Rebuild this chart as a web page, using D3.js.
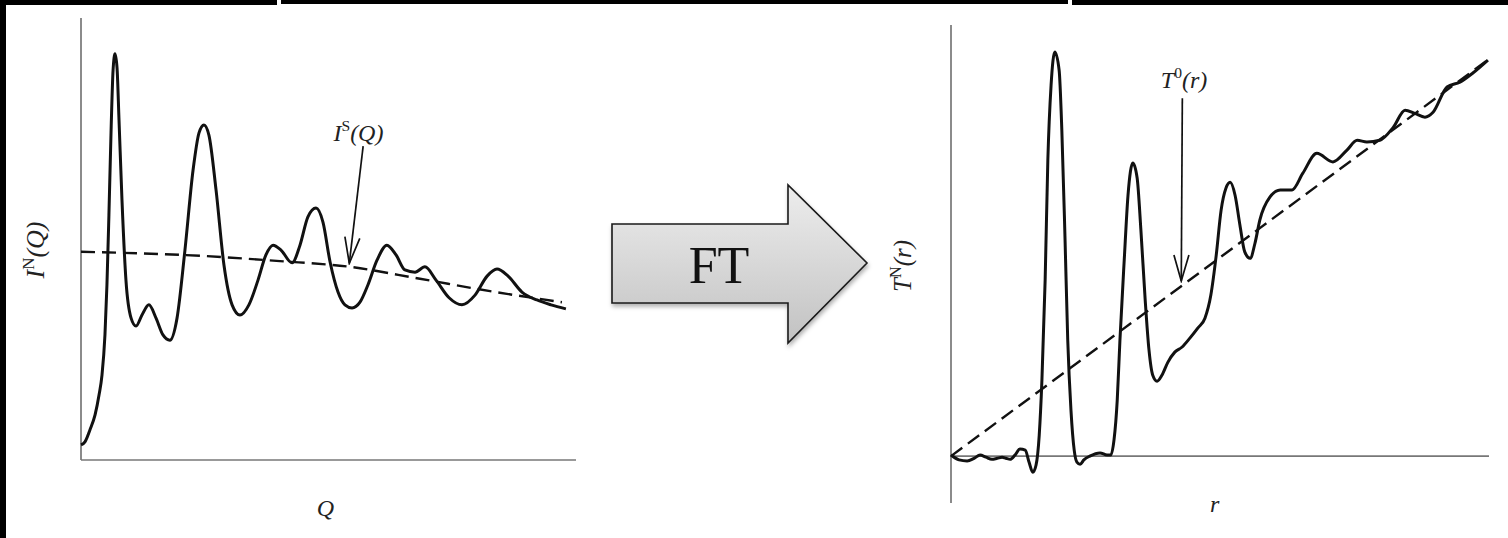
<!DOCTYPE html>
<html>
<head>
<meta charset="utf-8">
<script src="https://cdn.jsdelivr.net/npm/d3@7"></script>
<style>
  html, body { margin: 0; padding: 0; background: #fff; }
  svg { display: block; }
  .lbl { font-family: "Liberation Serif", "Times New Roman", Tinos, Times, "DejaVu Serif", serif; font-style: italic; fill: #222; }
  .sup { font-style: normal; }
</style>
</head>
<body>
<svg id="chart" width="1508" height="538"></svg>
<script>
// ---- data: structure factor I^N(Q) and self term I^S(Q) (left panel)
const qValues = [0, 0.20, 0.45, 0.71, 0.91, 1.06, 1.21, 1.31, 1.41, 1.52, 1.62, 1.72, 1.82, 1.92, 2.07, 2.27, 2.53, 2.78,
  3.08, 3.43, 3.79, 4.14, 4.49, 4.85, 5.25, 5.66, 5.96, 6.21, 6.46, 6.82, 7.22, 7.63, 8.03, 8.48, 8.94, 9.34, 9.70,
  10.10, 10.66, 11.06, 11.46, 11.87, 12.22, 12.58, 12.98, 13.33, 13.69, 14.09, 14.49, 14.95, 15.45, 15.91, 16.36,
  16.87, 17.37, 17.93, 18.59, 19.24, 19.90, 20.51, 21.01, 21.57, 22.27, 23.03, 23.74, 24.49];
const iN = [0.34, 0.41, 0.68, 1.02, 1.47, 1.92, 2.83, 3.96, 5.54, 7.47, 8.82, 9.19, 8.87, 7.69, 5.88, 4.07, 3.21, 3.03,
  3.28, 3.51, 3.21, 2.83, 2.71, 3.21, 4.75, 6.56, 7.40, 7.58, 7.35, 6.11, 4.41, 3.51, 3.28, 3.51, 4.07, 4.64, 4.86,
  4.75, 4.46, 4.86, 5.50, 5.70, 5.38, 4.48, 3.80, 3.51, 3.44, 3.57, 3.96, 4.52, 4.86, 4.64, 4.30,
  4.25, 4.37, 4.07, 3.67, 3.51, 3.73, 4.16, 4.32, 4.16, 3.80, 3.62, 3.51, 3.42];
const qSelf = [0, 6.01, 10.05, 13.59, 17.12, 20.66, 24.29];
const iSelf = [4.71, 4.62, 4.50, 4.37, 4.10, 3.82, 3.57];

// ---- data: total correlation T^N(r) and average density line T^0(r) (right panel)
const rValues = [0, 0.15, 0.30, 0.43, 0.54, 0.65, 0.76, 0.86, 0.95, 1.02, 1.10, 1.19, 1.28, 1.38, 1.45, 1.52, 1.58,
  1.64, 1.69, 1.75, 1.80, 1.86, 1.93, 2.01, 2.06, 2.12, 2.17, 2.23, 2.29, 2.34, 2.40, 2.47, 2.58, 2.77, 2.90, 2.97,
  3.03, 3.09, 3.14, 3.22, 3.29, 3.38, 3.46, 3.53, 3.61, 3.68, 3.75, 3.83, 3.92, 4.03, 4.16, 4.29, 4.44, 4.59, 4.72,
  4.83, 4.93, 5.02, 5.11, 5.19, 5.28, 5.37, 5.46, 5.56, 5.65, 5.74, 5.93, 6.12, 6.34, 6.54, 6.80, 7.10, 7.36, 7.55,
  7.73, 7.97, 8.22, 8.44, 8.62, 8.81, 8.96, 9.22, 9.46, 9.70, 9.98];
const tN = [0.02, -0.07, -0.09, -0.04, 0.02, -0.02, -0.06, -0.04, -0.02, -0.04, -0.06, 0.02, 0.13, 0.11, -0.11, -0.30, -0.17,
  0.39, 1.41, 3.27, 5.49, 6.88, 7.50, 7.16, 6.05, 4.01, 2.15, 0.85, 0.11, -0.11, -0.15, -0.07, 0.00, 0.06, 0.02, 0.02,
  0.30, 1.04, 2.15, 3.64, 4.84, 5.44, 5.16, 4.19, 2.89, 1.97, 1.50, 1.39, 1.50, 1.74, 1.93, 2.02, 2.19, 2.38, 2.56,
  2.99, 3.73, 4.56, 4.97, 5.08, 4.84, 4.29, 3.79, 3.67, 3.95, 4.38, 4.81, 4.94, 4.94, 5.25, 5.62, 5.46, 5.68, 5.86,
  5.83, 5.86, 6.10, 6.42, 6.36, 6.29, 6.38, 6.85, 6.94, 7.11, 7.35];
const rZero = [0, 10];
const tZero = [0, 7.37];

const serif = '"Liberation Serif", "Times New Roman", Tinos, Times, "DejaVu Serif", serif';
const svg = d3.select('#chart');

// black frame strips from the source slide
svg.append('rect').attr('x', 0).attr('y', 0).attr('width', 6).attr('height', 538).attr('fill', '#000');
[[6, 277, 5], [281, 1068, 4], [1072, 1508, 5]].forEach(([a, b, h]) => {
  svg.append('rect').attr('x', a).attr('y', 0).attr('width', b - a).attr('height', h).attr('fill', '#000');
});

// arrowhead marker (open V)
const defs = svg.append('defs');
defs.append('marker').attr('id', 'vhead')
  .attr('viewBox', '-28 -9 30 18').attr('refX', 0).attr('refY', 0)
  .attr('markerWidth', 30).attr('markerHeight', 18).attr('markerUnits', 'userSpaceOnUse')
  .attr('orient', 'auto')
  .append('path').attr('d', 'M-26,-7.5 L0,0 L-26,7.5').attr('fill', 'none')
  .attr('stroke', '#111').attr('stroke-width', 1.7);

const grad = defs.append('linearGradient').attr('id', 'ftgrad').attr('x1', 0).attr('y1', 0).attr('x2', 0).attr('y2', 1);
grad.append('stop').attr('offset', '0%').attr('stop-color', '#ededed');
grad.append('stop').attr('offset', '100%').attr('stop-color', '#c2c2c2');
const shadow = defs.append('filter').attr('id', 'shadow').attr('x', '-10%').attr('y', '-10%').attr('width', '130%').attr('height', '130%');
shadow.append('feDropShadow').attr('dx', 1).attr('dy', 3).attr('stdDeviation', 2).attr('flood-color', '#000').attr('flood-opacity', 0.3);

function supLabel(g, x, y, base, sup, rest, size, rotate) {
  const t = g.append('text').attr('class', 'lbl').style('font-size', size + 'px');
  if (rotate) t.attr('transform', `translate(${x},${y}) rotate(-90)`).attr('text-anchor', 'middle');
  else t.attr('x', x).attr('y', y);
  t.append('tspan').text(base);
  t.append('tspan').attr('class', 'sup').attr('dy', -size * 0.4).style('font-size', (size * 0.65) + 'px').text(sup);
  t.append('tspan').attr('dy', size * 0.4).text(rest);
  return t;
}

/* LEFT PANEL */
const xL = d3.scaleLinear().domain([0, 25]).range([81, 576]);
const yL = d3.scaleLinear().domain([0, 10]).range([460, 18]);
const gL = svg.append('g');
gL.append('line').attr('x1', xL(0)).attr('x2', xL(0)).attr('y1', yL(0)).attr('y2', yL(10))
  .attr('stroke', '#777').attr('stroke-width', 1.7);
gL.append('line').attr('x1', xL(0)).attr('x2', xL(25)).attr('y1', yL(0)).attr('y2', yL(0))
  .attr('stroke', '#777').attr('stroke-width', 1.7);

const lineL = d3.line().x(d => xL(d[0])).y(d => yL(d[1])).curve(d3.curveMonotoneX);
gL.append('path').datum(d3.zip(qSelf, iSelf)).attr('d', lineL)
  .attr('fill', 'none').attr('stroke', '#111').attr('stroke-width', 2.4).attr('stroke-dasharray', '14,7');
gL.append('path').datum(d3.zip(qValues, iN)).attr('d', lineL)
  .attr('fill', 'none').attr('stroke', '#111').attr('stroke-width', 3);

// I^S(Q) annotation
supLabel(gL, xL(12.75), yL(7.22), 'I', 'S', '(Q)', 24, false);
gL.append('line').attr('x1', xL(14.25)).attr('y1', yL(7.1)).attr('x2', xL(13.55)).attr('y2', yL(4.45))
  .attr('stroke', '#111').attr('stroke-width', 1.7).attr('marker-end', 'url(#vhead)');

supLabel(gL, 44, 250, 'I', 'N', '(Q)', 26, true);
gL.append('text').attr('class', 'lbl').style('font-size', '24px').attr('text-anchor', 'middle')
  .attr('x', xL(12.35)).attr('y', 516).text('Q');

/* FT ARROW */
const ftArrow = [[612, 224], [788, 224], [788, 185], [867, 263], [788, 343], [788, 303], [612, 303]];
svg.append('path').attr('d', d3.line()(ftArrow) + 'Z')
  .attr('fill', 'url(#ftgrad)').attr('stroke', '#1a1a1a').attr('stroke-width', 1.6)
  .attr('stroke-linejoin', 'miter').attr('filter', 'url(#shadow)');
svg.append('text').attr('x', 719).attr('y', 283).attr('text-anchor', 'middle')
  .style('font-family', serif).style('font-size', '52px')
  .attr('fill', '#111').text('FT');

/* RIGHT PANEL */
const xR = d3.scaleLinear().domain([0, 10]).range([951, 1489]);
const yR = d3.scaleLinear().domain([-0.87, 8]).range([503, 25]);
const gR = svg.append('g');
gR.append('line').attr('x1', xR(0)).attr('x2', xR(0)).attr('y1', yR(-0.87)).attr('y2', yR(8))
  .attr('stroke', '#777').attr('stroke-width', 1.7);
gR.append('line').attr('x1', xR(0)).attr('x2', xR(10)).attr('y1', yR(0)).attr('y2', yR(0))
  .attr('stroke', '#777').attr('stroke-width', 1.7);

const lineR = d3.line().x(d => xR(d[0])).y(d => yR(d[1])).curve(d3.curveMonotoneX);
gR.append('path').datum(d3.zip(rZero, tZero)).attr('d', lineR)
  .attr('fill', 'none').attr('stroke', '#111').attr('stroke-width', 2.4).attr('stroke-dasharray', '14,7');
gR.append('path').datum(d3.zip(rValues, tN)).attr('d', lineR)
  .attr('fill', 'none').attr('stroke', '#111').attr('stroke-width', 3);

// T^0(r) annotation
supLabel(gR, xR(3.9), yR(6.83), 'T', '0', '(r)', 24, false);
gR.append('line').attr('x1', xR(4.3)).attr('y1', yR(6.64)).attr('x2', xR(4.28)).attr('y2', yR(3.25))
  .attr('stroke', '#111').attr('stroke-width', 1.7).attr('marker-end', 'url(#vhead)');

supLabel(gR, 911, 266, 'T', 'N', '(r)', 25, true);
gR.append('text').attr('class', 'lbl').style('font-size', '24px').attr('text-anchor', 'middle')
  .attr('x', xR(4.9)).attr('y', 512).text('r');
</script>
</body>
</html>
